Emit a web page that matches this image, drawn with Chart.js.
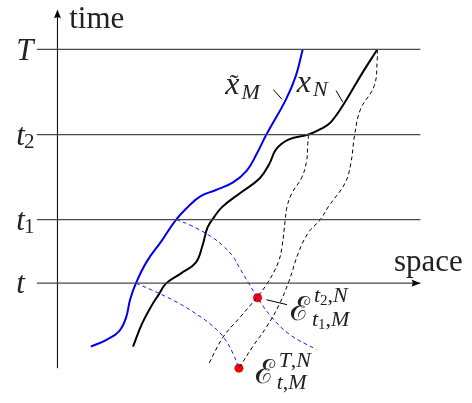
<!DOCTYPE html>
<html>
<head>
<meta charset="utf-8">
<script src="https://cdn.jsdelivr.net/npm/chart.js@4.4.0/dist/chart.umd.min.js"></script>
<style>
  html, body { margin: 0; padding: 0; background: #fff; }
  canvas { display: block; }
</style>
</head>
<body>
<canvas id="diagram" width="472" height="403"></canvas>
<script>
// === data (space on x, time on y; y runs downward like the picture) ===
const timeLevels = [46, 133, 220, 285];           // T, t2, t1, t
const timeNames = [['T', ''], ['t', '2'], ['t', '1'], ['t', '']];
const levelSpan = [33, 424];                       // horizontal extent of the time lines
const axisSpan = [372, 5];                         // vertical axis bottom -> top
const axisX = 54;

// blue trajectory x~_M (bottom -> top)
const curveM = [[88,350],[104,343],[117,334],[124,320],[128,302],[134,285],[145,263],[160,242],
  [175,220],[188,206],[200,196],[215,190],[233,182],[247,170],[257,153],[267,133],[287,97],
  [297,73],[304,46]];
// black trajectory x_N (bottom -> top)
const curveN = [[131,350],[140,327],[150,308],[157,297],[165,285],[180,275],[195,264],[202,246],
  [207,228],[214,217],[222,207],[240,193],[260,178],[270,163],[277,148],[290,138],[310,133],
  [323,127],[333,120],[347,100],[363,73],[380,46]];
// dashed characteristics
const dashN1 = [[310,133],[309,145],[308,160],[303,177],[293,193],[288,207],[286,222],[283,247],
  [279,264],[268,285],[257,300],[240,320],[223,340],[208,368]];
const dashN2 = [[380,46],[380,56],[377,83],[363,107],[357,133],[353,163],[347,183],[330,207],
  [322,220],[310,233],[300,253],[290,283],[280,307],[267,330],[253,350],[239,372]];
const dashM1 = [[175,220],[190,226],[210,237],[223,247],[233,258],[240,270],[250,287],[258,300],
  [270,317],[290,337],[318,353]];
const dashM2 = [[134,285],[150,292],[173,303],[190,313],[210,327],[223,340],[233,357],[239,372]];
const redDots = [[258,300],[239,372]];
// little leader strokes from labels to curves
const leaders = [
  [[274,87],[283,97]],
  [[338,88],[345,100]],
  [[267,302],[288,307]]
];

const pts = arr => arr.map(p => ({ x: p[0], y: p[1] }));

const datasets = [];

// time lines
timeLevels.forEach(y => {
  datasets.push({
    data: [{ x: levelSpan[0], y }, { x: levelSpan[1], y }],
    borderColor: '#4a4a4a', borderWidth: 1.3, pointRadius: 0, showLine: true
  });
});
// vertical axis
datasets.push({
  data: [{ x: axisX, y: axisSpan[0] }, { x: axisX, y: axisSpan[1] + 4 }],
  borderColor: '#111', borderWidth: 1.1, pointRadius: 0, showLine: true
});

const curve = (arr, color, width, dash) => ({
  data: pts(arr), borderColor: color, borderWidth: width, borderDash: dash || [],
  pointRadius: 0, showLine: true, tension: 0.4, borderCapStyle: 'butt'
});

datasets.push(curve(dashN1, '#000', 1, [4, 3]));
datasets.push(curve(dashN2, '#000', 1, [4, 3]));
datasets.push(curve(dashM1, '#1a1aff', 1, [4, 3]));
datasets.push(curve(dashM2, '#1a1aff', 1, [4, 3]));
datasets.push(curve(curveM, '#0000ee', 2));
datasets.push(curve(curveN, '#000', 2));

leaders.forEach(l => datasets.push({
  data: pts(l), borderColor: '#000', borderWidth: 1, pointRadius: 0, showLine: true
}));

datasets.push({
  data: pts(redDots), pointRadius: 4.5, pointBackgroundColor: '#ff0000',
  pointBorderWidth: 0, showLine: false
});

// === text and arrowheads ===
const SERIF = '"Liberation Serif", "DejaVu Serif", serif';

function runs(ctx, x, y, list) {
  list.forEach(r => {
    ctx.font = (r.i ? 'italic ' : '') + r.s + 'px ' + SERIF;
    ctx.fillText(r.t, x, y + (r.dy || 0));
    x += ctx.measureText(r.t).width;
  });
  return x;
}

// base, then superscript / subscript runs; gap = extra space after the base
function script(ctx, x, y, base, sup, sub, gap) {
  const x0 = runs(ctx, x, y, base) + (gap || 0);
  if (sup) runs(ctx, x0 + 1, y, sup);
  if (sub) runs(ctx, x0 - 1, y, sub);
}

function arrow(ctx, x, y, angle) {
  ctx.save();
  ctx.translate(x, y);
  ctx.rotate(angle);
  ctx.beginPath();
  ctx.moveTo(0, 0);
  ctx.lineTo(-9, -3.6);
  ctx.quadraticCurveTo(-6.5, 0, -9, 3.6);
  ctx.closePath();
  ctx.fillStyle = '#000';
  ctx.fill();
  ctx.restore();
}

const labelsPlugin = {
  id: 'labels',
  afterDatasetsDraw(chart) {
    const ctx = chart.ctx;
    const sx = chart.scales.x, sy = chart.scales.y;
    const X = v => sx.getPixelForValue(v), Y = v => sy.getPixelForValue(v);
    ctx.save();
    ctx.fillStyle = '#222';
    ctx.textBaseline = 'alphabetic';

    // arrowheads
    arrow(ctx, X(axisX), Y(axisSpan[1]), -Math.PI / 2);
    arrow(ctx, X(levelSpan[1]), Y(timeLevels[3]), 0);

    // axis names
    runs(ctx, X(66), Y(24), [{ t: 'time', s: 31 }]);
    runs(ctx, X(397), Y(273), [{ t: 'space', s: 31 }]);

    // time level names
    timeNames.forEach((n, k) => {
      const base = Y(timeLevels[k]);
      const shift = n[0] === 'T' ? 11 : 10;
      script(ctx, X(12), base + shift, [{ t: n[0], s: 31, i: true }],
        null, n[1] ? [{ t: n[1], s: 21, dy: 3 }] : null);
    });

    // trajectory names (tilde drawn over the x by hand)
    script(ctx, X(225), Y(92), [{ t: 'x', s: 32, i: true }], null,
      [{ t: 'M', s: 22, i: true, dy: 5 }], 3);
    ctx.font = '26px ' + SERIF;
    ctx.textAlign = 'center';
    ctx.fillText('\u02DC', X(234), Y(92) - 2);
    ctx.textAlign = 'left';
    script(ctx, X(298), Y(89), [{ t: 'x', s: 32, i: true }], null,
      [{ t: 'N', s: 22, i: true, dy: 4 }], 3);

    // error terms
    script(ctx, X(291), Y(323), [{ t: '\u2130', s: 33 }],
      [{ t: 't', s: 22, i: true, dy: -18 }, { t: '2', s: 15, dy: -15 }, { t: ',', s: 22, dy: -18 }, { t: 'N', s: 22, i: true, dy: -18 }],
      [{ t: 't', s: 22, i: true, dy: 6 }, { t: '1', s: 15, dy: 9 }, { t: ',', s: 22, dy: 6 }, { t: 'M', s: 22, i: true, dy: 6 }], 3);
    script(ctx, X(255), Y(387), [{ t: '\u2130', s: 33 }],
      [{ t: 'T', s: 22, i: true, dy: -16 }, { t: ',', s: 22, dy: -16 }, { t: 'N', s: 22, i: true, dy: -16 }],
      [{ t: 't', s: 22, i: true, dy: 6 }, { t: ',', s: 22, dy: 6 }, { t: 'M', s: 22, i: true, dy: 6 }], 3);

    ctx.restore();
  }
};

new Chart(document.getElementById('diagram'), {
  type: 'scatter',
  data: { datasets },
  options: {
    responsive: false,
    animation: false,
    layout: { padding: 0 },
    clip: false,
    scales: {
      x: { type: 'linear', min: 0, max: 472, display: false },
      y: { type: 'linear', min: 0, max: 403, reverse: true, display: false }
    },
    plugins: { legend: { display: false }, tooltip: { enabled: false } }
  },
  plugins: [labelsPlugin]
});
</script>
</body>
</html>
